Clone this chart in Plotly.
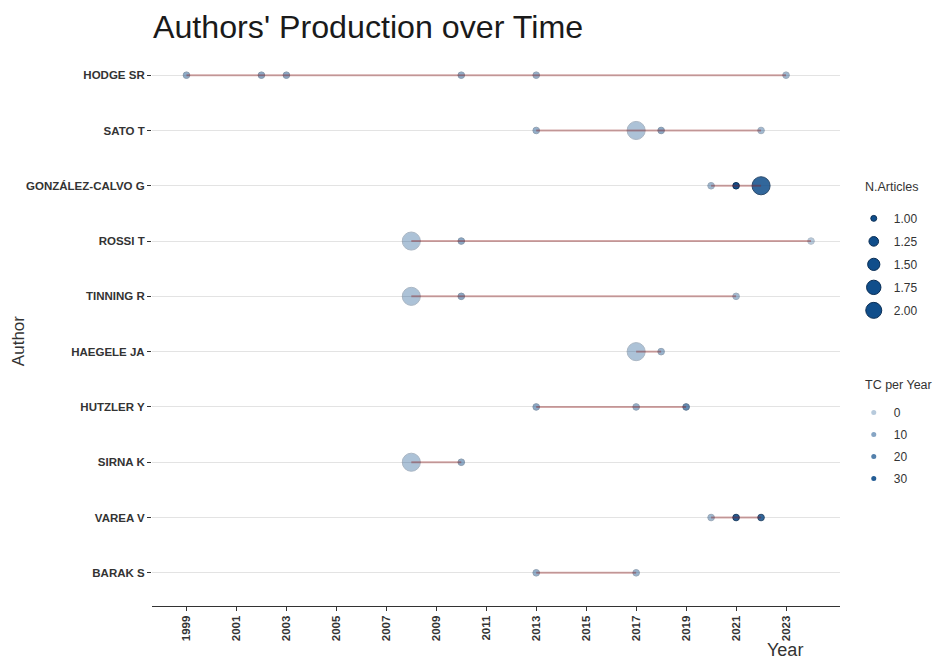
import plotly.graph_objects as go

# ---------------- data ----------------
authors = ["HODGE SR", "SATO T", "GONZÁLEZ-CALVO G", "ROSSI T", "TINNING R",
           "HAEGELE JA", "HUTZLER Y", "SIRNA K", "VAREA V", "BARAK S"]

point_author = (["HODGE SR"] * 6 + ["SATO T"] * 4 + ["GONZÁLEZ-CALVO G"] * 3 +
                ["ROSSI T"] * 3 + ["TINNING R"] * 3 + ["HAEGELE JA"] * 2 +
                ["HUTZLER Y"] * 3 + ["SIRNA K"] * 2 + ["VAREA V"] * 3 + ["BARAK S"] * 2)
point_year = [1999, 2002, 2003, 2010, 2013, 2023,
              2013, 2017, 2018, 2022,
              2020, 2021, 2022,
              2008, 2010, 2024,
              2008, 2010, 2021,
              2017, 2018,
              2013, 2017, 2019,
              2008, 2010,
              2020, 2021, 2022,
              2013, 2017]
point_articles = [1, 1, 1, 1, 1, 1,
                  1, 2, 1, 1,
                  1, 1, 2,
                  2, 1, 1,
                  2, 1, 1,
                  2, 1,
                  1, 1, 1,
                  2, 1,
                  1, 1, 1,
                  1, 1]
point_tc_year = [8, 9, 9, 8, 7, 5,
                 7, 2, 9, 4,
                 5, 34, 27,
                 2, 9, 0,
                 2, 9, 4,
                 2, 6,
                 9, 7, 17,
                 2, 8,
                 5, 30, 27,
                 7, 6]

size_legend_values = [1.00, 1.25, 1.50, 1.75, 2.00]
size_legend_labels = ["1.00", "1.25", "1.50", "1.75", "2.00"]
tc_legend_values = [0, 10, 20, 30]
tc_legend_labels = ["0", "10", "20", "30"]
year_ticks = list(range(1999, 2024, 2))

# ---------------- scales ----------------
POINT_COLOR = "#104E8B"   # dodgerblue4
EDGE_COLOR = "#0A2E55"
LINE_COLOR = "rgba(139,26,26,0.38)"  # firebrick4 with alpha
tc_min, tc_max = min(point_tc_year), max(point_tc_year)
n_min, n_max = 1.0, 2.0


def alpha_of(tc):
    return 0.3 + 0.7 * (tc - tc_min) / (tc_max - tc_min)


def size_of(n):
    # area-proportional size scale (ggplot scale_size)
    frac = (n - n_min) / (n_max - n_min)
    return 6.6 * (1 + 6.5 * frac) ** 0.5


fig = go.Figure()

# points
fig.add_trace(go.Scatter(
    x=point_year, y=point_author, mode="markers",
    marker=dict(color=POINT_COLOR,
                size=[size_of(n) for n in point_articles],
                opacity=[alpha_of(t) for t in point_tc_year],
                line=dict(color=EDGE_COLOR, width=1)),
    showlegend=False, hoverinfo="x+y"))

# lines per author, drawn over points
for a in authors:
    xs = [y for y, au in zip(point_year, point_author) if au == a]
    fig.add_trace(go.Scatter(
        x=xs, y=[a] * len(xs), mode="lines",
        line=dict(color=LINE_COLOR, width=2),
        showlegend=False, hoverinfo="skip"))

# legend: N.Articles
for i, (v, lab) in enumerate(zip(size_legend_values, size_legend_labels)):
    fig.add_trace(go.Scatter(
        x=[None], y=[None], mode="markers", name=lab,
        legendgroup=f"n{i}",
        marker=dict(color=POINT_COLOR, size=size_of(v) * 0.9,
                    line=dict(color=EDGE_COLOR, width=1)),
        legend="legend"))

# legend: TC per Year
for i, (v, lab) in enumerate(zip(tc_legend_values, tc_legend_labels)):
    fig.add_trace(go.Scatter(
        x=[None], y=[None], mode="markers", name=lab,
        legendgroup=f"t{i}",
        marker=dict(color=POINT_COLOR, size=5, opacity=alpha_of(v)),
        legend="legend2"))

FONT = "Liberation Sans, Arial, sans-serif"
W, H = 933, 657
L, R, T, B = 144, 101, 34, 59

fig.update_layout(
    width=W, height=H,
    margin=dict(l=L, r=R, t=T, b=B, autoexpand=False),
    paper_bgcolor="white", plot_bgcolor="white",
    font=dict(family=FONT, color="#333333"),
    title=dict(text="Authors' Production over Time", x=145 / W, xref="container",
               xanchor="left", y=1 - 19 / H, yref="container", yanchor="middle",
               font=dict(size=32.2, color="#1a1a1a", family=FONT)),
    xaxis=dict(range=[1997.62, 2025.16], tickvals=year_ticks,
               ticktext=[f"<b>{t}</b>" for t in year_ticks],
               tickangle=-90, tickfont=dict(size=11.5, color="#333333"),
               showgrid=False, zeroline=False, automargin=False,
               showline=True, linecolor="#333333", linewidth=1,
               ticks="outside", ticklen=4, tickcolor="#333333"),
    yaxis=dict(type="category", categoryorder="array",
               categoryarray=list(reversed(authors)),
               range=[-0.6, 9.6], automargin=False,
               tickvals=authors, ticktext=[f"<b>{a}</b>" for a in authors],
               tickfont=dict(size=11.5, color="#333333"),
               showgrid=True, gridcolor="#E3E3E3", gridwidth=1,
               zeroline=False, showline=False,
               ticks="outside", ticklen=4, tickcolor="#333333"),
    legend=dict(x=1.02, xanchor="left", y=0.713, yanchor="top",
                font=dict(size=12, color="#333333"), itemsizing="trace",
                tracegroupgap=4, bgcolor="rgba(0,0,0,0)"),
    legend2=dict(x=1.02, xanchor="left", y=0.369, yanchor="top",
                 font=dict(size=12, color="#333333"), itemsizing="trace",
                 tracegroupgap=3, bgcolor="rgba(0,0,0,0)"),
    annotations=[
        dict(text="N.Articles", xref="paper", yref="paper", x=1.0334, y=0.743,
             xanchor="left", yanchor="middle", showarrow=False,
             font=dict(size=12.5, color="#333333")),
        dict(text="TC per Year", xref="paper", yref="paper", x=1.0334, y=0.392,
             xanchor="left", yanchor="middle", showarrow=False,
             font=dict(size=12.5, color="#333333")),
        dict(text="Author", xref="paper", yref="paper", x=-0.193, y=0.47,
             xanchor="center", yanchor="middle",
             textangle=-90, showarrow=False, font=dict(size=17, color="#333333")),
        dict(text="Year", xref="paper", yref="paper", x=0.92, y=-0.078,
             xanchor="center", yanchor="middle", showarrow=False,
             font=dict(size=18, color="#333333")),
    ],
)

fig.write_html("out.html")
